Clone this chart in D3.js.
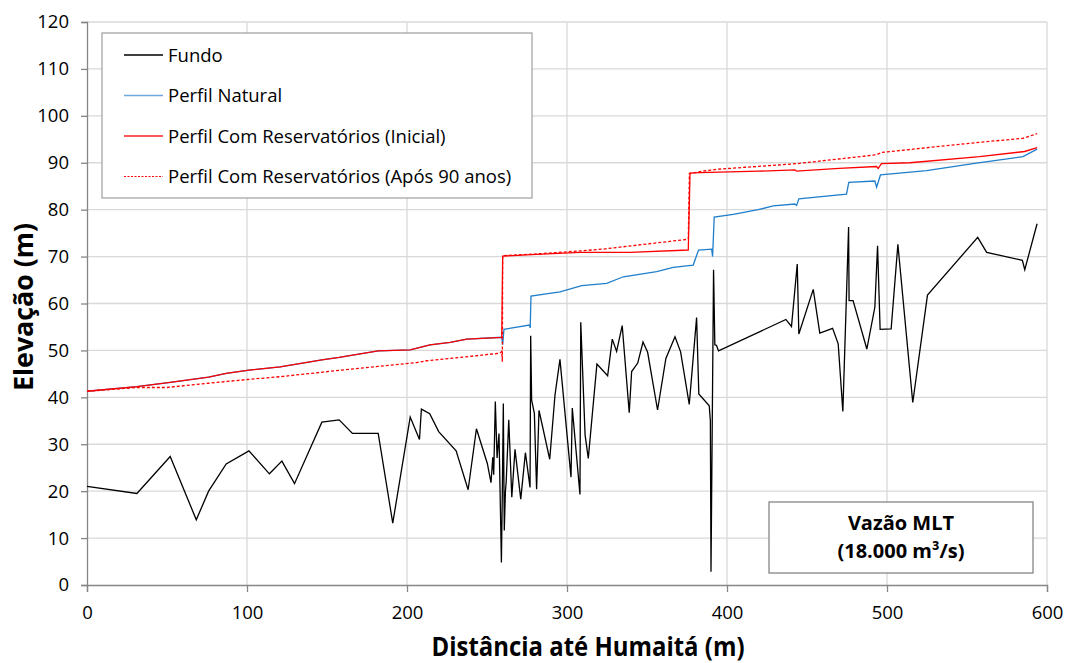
<!DOCTYPE html>
<html>
<head>
<meta charset="utf-8">
<script src="https://cdn.jsdelivr.net/npm/d3@7"></script>
<style>
  body { margin: 0; background: #fff; }
  svg text { font-family: "Open Sans", sans-serif; fill: #000; }
</style>
</head>
<body>
<svg id="chart" width="1069" height="663"></svg>
<script>
// series values: [distance, elevation]
var fundo = [[0,21],[31.2,19.5],[52,27.4],[68.3,13.9],[76,20],[87,25.8],[101.2,28.6],[114,23.7],
  [121.8,26.4],[129.7,21.6],[146.8,34.7],[157.6,35.2],[165.9,32.3],[182,32.3],[191.1,13.2],
  [202,35.8],[207.8,31],[209,37.5],[214.2,36.5],[219.8,32.7],[230.7,28.6],[238.2,20.3],
  [243.4,33.3],[250.2,25.9],[252.5,21.8],[253.6,27.2],[254.2,23.5],[255.2,39.1],[256.3,27.1],
  [257.5,32.3],[259,4.8],[259.6,20.3],[260.2,38.7],[260.8,11.6],[261.5,19.9],[262,22],
  [263.6,35.2],[265.5,18.7],[267.5,28.9],[271.1,18.3],[274,28.2],[276.9,20.8],[277.3,53.1],
  [277.9,39.4],[279.6,36.6],[281,20.4],[282.5,37.2],[289.2,26.8],[292.5,40.5],[295.6,48.1],
  [302.5,23],[303.3,37.7],[308.1,19.3],[308.6,56],[311.3,32],[313.3,27],[318.7,47.1],
  [325.4,44.6],[328.3,52.4],[331,49.8],[334.5,55.3],[338.9,36.7],[340.4,45.5],[344.2,47.3],
  [347.5,51.8],[350.4,49.6],[356.6,37.3],[361.8,48.3],[367.5,52.9],[371,49.7],[376.4,38.5],
  [381,57],[382.4,40.7],[388.9,38.2],[389.6,35],[390,2.8],[391.6,67.2],[392.4,51.2],
  [393.4,51.1],[394.7,49.9],[436.8,56.6],[440.3,55.1],[443.9,68.4],[444.9,53.5],[453.9,63],
  [458,53.7],[466,54.7],[469.5,51.4],[472.4,37],[476,76.3],[476.3,60.6],[478.8,60.6],
  [487.4,50.3],[492.4,59.2],[494.1,72.3],[495.7,54.5],[502.6,54.6],[506.8,72.6],[516.1,38.9],
  [525.3,61.8],[556.7,74.1],[562.3,70.9],[584.6,69.2],[586.1,67.2],[593.8,77]];

var perfilNatural = [[0,41.3],[31.2,42.3],[52,43.2],[76,44.3],[87,45.1],[101.2,45.8],[120.7,46.5],
  [146.8,48],[157.6,48.5],[182,49.9],[202,50.1],[214.4,51.2],[227,51.7],[237.4,52.4],[259.2,52.8],
  [259.8,51.2],[260.6,54.5],[276.5,55.4],[277,54.8],[277.5,61.6],[295.6,62.5],[309.2,63.8],
  [324.8,64.3],[335.2,65.7],[356,66.8],[366.4,67.7],[378.9,68.2],[382.2,71.4],[390.4,71.6],
  [391,70],[392,78.4],[403.9,79],[419.5,80],[428.9,80.8],[442.4,81.2],[443.5,80.9],[444.9,82.3],
  [474.7,83.3],[476.1,85.8],[492.4,86.1],[493.5,84.8],[495.9,87.4],[524.7,88.3],[555.9,89.9],
  [585,91.3],[593.8,92.9]];

var perfilInicial = [[0,41.3],[31.2,42.3],[52,43.2],[76,44.3],[87,45.1],[101.2,45.8],[120.7,46.5],
  [146.8,48],[157.6,48.5],[182,49.9],[202,50.1],[214.4,51.2],[227,51.7],[237.4,52.4],[259.2,52.8],
  [259.8,70.1],[277.9,70.4],[308.1,70.9],[339.4,70.9],[375.8,71.4],[376.9,87.8],[383,87.9],
  [420,88.2],[442.5,88.5],[443.4,88.2],[470,88.8],[493.4,89.2],[494.5,88.8],[496.5,89.8],
  [514.2,90],[557.9,91.3],[586,92.4],[593.8,93.2]];

var perfilApos = [[0,41.3],[31.2,42.1],[50,42.1],[76,43],[100,43.8],[120.7,44.4],[164.4,46],
  [206,47.4],[212.4,47.8],[227,48.3],[258.1,49.4],[259.2,49.8],[259.6,47.6],[259.8,70.2],
  [277.9,70.5],[308.1,71.2],[322.7,71.6],[375.8,73.7],[376.5,87.7],[383,88.1],[393.5,88.6],
  [443.4,89.8],[493.4,91.7],[496.5,92.2],[555.9,94.3],[585,95.2],[593.8,96.2]];

var legendNames = ["Fundo", "Perfil Natural", "Perfil Com Reservatórios (Inicial)", "Perfil Com Reservatórios (Após 90 anos)"];
var xTicks = [0, 100, 200, 300, 400, 500, 600];
var yTicks = [0, 10, 20, 30, 40, 50, 60, 70, 80, 90, 100, 110, 120];

var svg = d3.select("#chart");
var plotL = 87, plotR = 1047, plotT = 22, plotB = 585;

var x = d3.scaleLinear().domain([0, 600]).range([plotL, plotR]);
var y = d3.scaleLinear().domain([0, 120]).range([plotB, plotT]);

// grid
svg.append("g").selectAll("line").data(yTicks.slice(1)).enter().append("line")
  .attr("x1", plotL).attr("x2", plotR)
  .attr("y1", function(d){ return y(d); }).attr("y2", function(d){ return y(d); })
  .style("stroke", "#d9d9d9").style("stroke-width", 1.3);
svg.append("g").selectAll("line").data(xTicks.slice(1)).enter().append("line")
  .attr("y1", plotT).attr("y2", plotB)
  .attr("x1", function(d){ return x(d); }).attr("x2", function(d){ return x(d); })
  .style("stroke", "#d9d9d9").style("stroke-width", 1.3);

// axes
var yAxis = svg.append("g").attr("transform", "translate(" + plotL + ",0)")
  .call(d3.axisLeft(y).tickValues(yTicks).tickSize(6).tickPadding(12));
var xAxis = svg.append("g").attr("transform", "translate(0," + plotB + ")")
  .call(d3.axisBottom(x).tickValues(xTicks).tickSize(7).tickPadding(14));
[yAxis, xAxis].forEach(function(a){
  a.select(".domain").style("stroke", "#868686").style("stroke-width", 1.3);
  a.selectAll(".tick line").style("stroke", "#868686").style("stroke-width", 1.3);
  a.selectAll(".tick text").style("font-size", "18.5px").style("font-family", "'Open Sans', sans-serif");
});

// lines
var line = d3.line().x(function(d){ return x(d[0]); }).y(function(d){ return y(d[1]); });
var series = [
  {data: fundo, color: "#000000", dash: null},
  {data: perfilNatural, color: "#1f7fcc", dash: null},
  {data: perfilInicial, color: "#ff0000", dash: null},
  {data: perfilApos, color: "#ff0000", dash: "3,2"}
];
series.forEach(function(s){
  svg.append("path").datum(s.data).attr("d", line)
    .style("fill", "none").style("stroke", s.color).style("stroke-width", 1.3)
    .style("stroke-dasharray", s.dash);
});

// legend
var lg = svg.append("g");
lg.append("rect").attr("x", 102).attr("y", 33).attr("width", 430).attr("height", 165)
  .style("fill", "#fff").style("stroke", "#a6a6a6").style("stroke-width", 1.3);
var legendColors = ["#000000", "#6fa8dc", "#ff2020", "#ff0000"];
legendNames.forEach(function(n, i){
  var yy = 55 + i * 40.5;
  lg.append("line").attr("x1", 124).attr("x2", 163).attr("y1", yy).attr("y2", yy)
    .style("stroke", legendColors[i]).style("stroke-width", i == 3 ? 1 : 1.3)
    .style("stroke-dasharray", i == 3 ? "2,1.5" : null);
  lg.append("text").attr("x", 168).attr("y", yy + 6.5).style("font-size", "18.5px").text(n);
});

// text box
var tb = svg.append("g");
tb.append("rect").attr("x", 769).attr("y", 502).attr("width", 264).attr("height", 71)
  .style("fill", "#fff").style("stroke", "#868686").style("stroke-width", 1.3);
tb.append("text").attr("x", 901).attr("y", 530).attr("text-anchor", "middle")
  .style("font-size", "20px").style("font-weight", "bold").text("Vazão MLT");
tb.append("text").attr("x", 901).attr("y", 558).attr("text-anchor", "middle")
  .style("font-size", "20px").style("font-weight", "bold").text("(18.000 m³/s)");

// axis titles
svg.append("text").attr("x", 588).attr("y", 656).attr("text-anchor", "middle")
  .attr("textLength", 313).attr("lengthAdjust", "spacingAndGlyphs")
  .style("font-size", "27px").style("font-weight", "bold").text("Distância até Humaitá (m)");
svg.append("text").attr("transform", "translate(33,307) rotate(-90)").attr("text-anchor", "middle")
  .attr("textLength", 168).attr("lengthAdjust", "spacingAndGlyphs")
  .style("font-size", "27px").style("font-weight", "bold").text("Elevação (m)");
</script>
</body>
</html>
